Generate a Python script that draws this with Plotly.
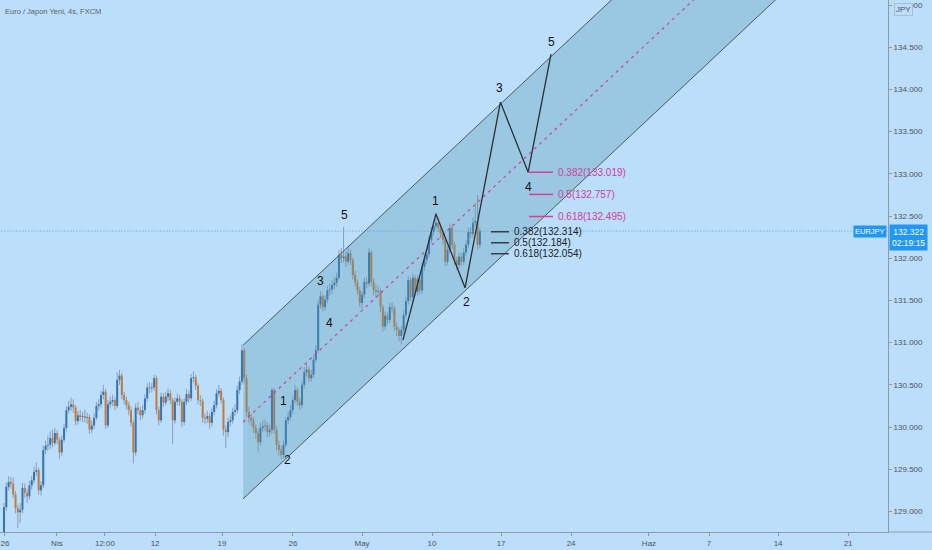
import plotly.graph_objects as go

# ---------------- candle data (EUR/JPY, 4h) ----------------
opens = [
 128.70,129.05,129.29,129.35,129.33,129.20,129.04,128.99,129.02,129.28,
 129.22,129.18,129.31,129.37,129.47,129.49,129.25,129.31,129.73,129.78,
 129.79,129.87,129.81,129.93,129.85,129.70,129.85,129.99,130.20,130.24,
 130.27,130.23,130.07,130.14,130.12,130.13,130.11,130.12,129.97,130.02,
 130.11,130.25,130.27,130.38,130.42,130.02,130.27,130.30,130.32,130.25,
 130.56,130.61,130.38,130.32,130.26,130.20,130.05,129.70,130.23,130.20,
 130.14,130.20,130.34,130.47,130.46,130.47,130.58,130.20,130.08,130.36,
 130.29,130.36,130.40,130.32,130.08,130.30,130.34,130.30,130.06,130.30,
 130.39,130.34,130.58,130.59,130.49,130.32,130.31,130.11,130.10,130.13,
 130.05,130.18,130.26,130.40,130.43,130.32,129.97,129.94,130.06,130.08,
 130.18,130.20,130.44,130.54,130.91,130.58,130.18,130.11,130.08,129.99,
 129.93,129.82,129.99,130.01,130.02,129.94,129.97,130.44,129.97,129.79,
 129.73,129.67,129.79,130.08,130.12,130.20,130.32,130.44,130.30,130.26,
 130.50,130.65,130.68,130.58,130.62,130.80,130.91,131.45,131.55,131.42,
 131.51,131.62,131.63,131.68,131.71,131.77,132.04,132.00,132.02,131.96,
 132.06,131.98,131.80,131.71,131.62,131.47,131.57,131.72,131.70,132.07,
 131.72,131.62,131.60,131.61,131.42,131.19,131.32,131.27,131.42,131.41,
 131.19,131.15,131.08,131.15,131.33,131.49,131.74,131.54,131.77,131.60,
 131.75,131.62,131.90,131.98,132.05,132.22,132.31,132.38,132.42,132.36,
 132.29,132.22,131.96,132.10,132.36,132.16,131.98,131.92,132.02,131.96,
 132.07,132.16,132.31,132.29,132.42,132.44,132.16]
highs = [
 129.10,129.34,129.42,129.41,129.40,129.24,129.08,129.10,129.34,129.33,
 129.27,129.36,129.42,129.53,129.58,129.52,129.36,129.78,129.84,129.90,
 129.95,129.97,129.99,129.96,129.88,129.90,130.04,130.25,130.31,130.35,
 130.33,130.26,130.19,130.20,130.18,130.21,130.17,130.15,130.08,130.16,
 130.30,130.33,130.43,130.50,130.45,130.32,130.36,130.38,130.35,130.65,
 130.68,130.64,130.42,130.36,130.30,130.24,130.08,130.28,130.30,130.24,
 130.26,130.39,130.52,130.53,130.52,130.62,130.61,130.24,130.41,130.40,
 130.42,130.46,130.44,130.35,130.35,130.40,130.38,130.33,130.34,130.45,
 130.43,130.63,130.66,130.62,130.52,130.38,130.34,130.16,130.19,130.16,
 130.23,130.31,130.45,130.50,130.46,130.35,130.02,130.11,130.14,130.23,
 130.27,130.49,130.60,130.98,130.94,130.62,130.24,130.16,130.12,130.03,
 129.97,130.05,130.08,130.09,130.06,130.03,130.47,130.46,130.01,129.84,
 129.78,129.84,130.12,130.18,130.26,130.37,130.50,130.47,130.35,130.55,
 130.71,130.75,130.71,130.68,130.85,130.97,131.50,131.61,131.58,131.56,
 131.67,131.70,131.74,131.78,131.83,132.10,132.12,132.37,132.08,132.14,
 132.10,132.01,131.85,131.75,131.66,131.61,131.77,131.78,132.12,132.10,
 131.76,131.68,131.67,131.64,131.45,131.37,131.36,131.47,131.48,131.44,
 131.24,131.18,131.20,131.38,131.54,131.79,131.77,131.82,131.80,131.80,
 131.78,131.95,132.04,132.11,132.27,132.37,132.45,132.54,132.47,132.40,
 132.33,132.25,132.15,132.41,132.39,132.20,132.02,132.07,132.06,132.12,
 132.21,132.36,132.37,132.48,132.66,132.75,132.36]
lows = [
 128.62,129.01,129.25,129.27,129.16,128.98,128.80,128.86,128.98,129.16,
 129.10,129.14,129.26,129.33,129.42,129.20,129.19,129.28,129.68,129.72,
 129.74,129.76,129.78,129.80,129.62,129.66,129.82,129.95,130.16,130.19,
 130.17,130.02,130.03,130.07,130.06,130.05,130.04,129.92,129.93,129.98,
 130.08,130.20,130.23,130.33,129.98,129.99,130.22,130.25,130.20,130.22,
 130.50,130.33,130.27,130.21,130.14,130.00,129.57,129.66,130.15,130.08,
 130.10,130.16,130.30,130.40,130.41,130.43,130.15,130.02,130.05,130.24,
 130.26,130.31,130.27,129.80,130.04,130.26,130.25,130.00,130.02,130.26,
 130.29,130.31,130.53,130.44,130.27,130.25,130.05,130.03,130.05,129.98,
 130.01,130.14,130.22,130.36,130.28,129.90,129.75,129.88,130.01,130.04,
 130.13,130.16,130.39,130.50,130.52,130.12,130.05,130.01,129.93,129.86,
 129.70,129.78,129.94,129.95,129.88,129.89,129.92,129.92,129.72,129.66,
 129.62,129.63,129.76,130.03,130.08,130.16,130.28,130.25,130.20,130.22,
 130.46,130.60,130.53,130.54,130.58,130.76,130.88,131.40,131.37,131.38,
 131.47,131.56,131.58,131.63,131.66,131.74,131.94,131.95,131.90,131.92,
 131.92,131.75,131.66,131.57,131.42,131.39,131.53,131.64,131.66,131.67,
 131.56,131.54,131.55,131.36,131.13,131.15,131.21,131.23,131.35,131.14,
 131.08,131.02,130.98,131.11,131.29,131.45,131.49,131.50,131.55,131.56,
 131.57,131.58,131.85,131.93,132.01,132.18,132.27,132.34,132.31,132.24,
 132.16,131.90,131.92,132.06,132.11,131.92,131.86,131.88,131.91,131.92,
 132.03,132.12,132.24,132.25,132.37,132.10,132.12]
closes = [
 129.05,129.29,129.35,129.33,129.20,129.04,128.99,129.02,129.28,129.22,
 129.18,129.31,129.37,129.47,129.49,129.25,129.31,129.73,129.78,129.79,
 129.87,129.81,129.93,129.85,129.70,129.85,129.99,130.20,130.24,130.27,
 130.23,130.07,130.14,130.12,130.13,130.11,130.12,129.97,130.02,130.11,
 130.25,130.27,130.38,130.42,130.02,130.27,130.30,130.32,130.25,130.56,
 130.61,130.38,130.32,130.26,130.20,130.05,129.70,130.23,130.20,130.14,
 130.20,130.34,130.47,130.46,130.47,130.58,130.20,130.08,130.36,130.29,
 130.36,130.40,130.32,130.08,130.30,130.34,130.30,130.06,130.30,130.39,
 130.34,130.58,130.59,130.49,130.32,130.31,130.11,130.10,130.13,130.05,
 130.18,130.26,130.40,130.43,130.32,129.97,129.94,130.06,130.08,130.18,
 130.20,130.44,130.54,130.91,130.58,130.18,130.11,130.08,129.99,129.93,
 129.82,129.99,130.01,130.02,129.94,129.97,130.44,129.97,129.79,129.73,
 129.67,129.79,130.08,130.12,130.20,130.32,130.44,130.30,130.26,130.50,
 130.65,130.68,130.58,130.62,130.80,130.91,131.45,131.55,131.42,131.51,
 131.62,131.63,131.68,131.71,131.77,132.04,132.00,132.02,131.96,132.06,
 131.98,131.80,131.71,131.62,131.47,131.57,131.72,131.70,132.07,131.72,
 131.62,131.60,131.61,131.42,131.19,131.32,131.27,131.42,131.41,131.19,
 131.15,131.08,131.15,131.33,131.49,131.74,131.54,131.77,131.60,131.75,
 131.62,131.90,131.98,132.05,132.22,132.31,132.38,132.42,132.36,132.29,
 132.22,131.96,132.10,132.36,132.16,131.98,131.92,132.02,131.96,132.07,
 132.16,132.31,132.29,132.42,132.44,132.16,132.322]
bar_index = list(range(len(closes)))
last_price = 132.322
last_price_text = "132.322"
countdown_text = "02:19:15"

# time axis labels (bar positions)
tick_bars = [0.4, 22.9, 43.7, 65.4, 94.4, 125.1, 155.0, 185.3, 215.2, 245.5, 279.2, 305.2, 335.1, 365.4]
tick_labels = ["26", "Nis", "12:00", "12", "19", "26", "May", "10", "17", "24", "Haz", "7", "14", "21"]
price_ticks = [129.0, 129.5, 130.0, 130.5, 131.0, 131.5, 132.0, 132.5, 133.0, 133.5, 134.0, 134.5, 135.0]
price_tick_labels = ["129.000", "129.500", "130.000", "130.500", "131.000", "131.500", "132.000",
                     "132.500", "133.000", "133.500", "134.000", "134.500", "135.000"]

# parallel channel drawing
channel_bars = [103.5, 400.0]
channel_upper = [130.97, 138.575]
channel_lower = [129.15, 136.755]
channel_mid = [130.06, 137.665]

# Elliott wave drawing
wave_bars = [172.7, 187.0, 199.6, 214.9, 226.9, 236.8]
wave_prices = [131.03, 132.525, 131.65, 133.85, 133.019, 134.42]
label_text = ["5", "3", "4", "1", "2", "1", "2", "3", "4", "5"]
label_bars = [147.2, 136.8, 140.7, 121.2, 122.9, 187.0, 200.0, 214.7, 226.9, 236.8]
label_prices = [132.513, 131.731, 131.233, 130.309, 129.610, 132.679, 131.482, 134.018, 132.845, 134.563]

# Fibonacci retracement levels
fib_black_levels = ["0.382", "0.5", "0.618"]
fib_black_prices = [132.314, 132.184, 132.054]
fib_black_span = [210.8, 218.6]
fib_pink_levels = ["0.382", "0.5", "0.618"]
fib_pink_prices = [133.019, 132.757, 132.495]
fib_pink_span = [227.3, 237.7]

# ---------------- colours ----------------
BG = "#bbdefb"
UP = "#3574b3"
DOWN = "#c47a3a"
WICK = "#8d9db0"
AXIS = "#8e9aa8"
TXT = "#50535e"
PINK = "#d2409c"
FONT = "Liberation Sans"

fig = go.Figure()

# wicks
wx, wy = [], []
for i, h, l in zip(bar_index, highs, lows):
    wx += [i, i, None]
    wy += [l, h, None]
fig.add_trace(go.Scatter(x=wx, y=wy, mode="lines", line=dict(color=WICK, width=1), hoverinfo="skip"))

# bodies
ux, uy, dx, dy = [], [], [], []
for i, o, c in zip(bar_index, opens, closes):
    if c >= o:
        ux += [i, i, None]
        uy += [o, c, None]
    else:
        dx += [i, i, None]
        dy += [o, c, None]
fig.add_trace(go.Scatter(x=ux, y=uy, mode="lines", line=dict(color=UP, width=2), hoverinfo="skip"))
fig.add_trace(go.Scatter(x=dx, y=dy, mode="lines", line=dict(color=DOWN, width=2), hoverinfo="skip"))

# channel fill
fig.add_trace(go.Scatter(
    x=[channel_bars[0], channel_bars[0], channel_bars[1], channel_bars[1], channel_bars[0]],
    y=[channel_lower[0], channel_upper[0], channel_upper[1], channel_lower[1], channel_lower[0]],
    mode="lines", line=dict(width=0), fill="toself", fillcolor="rgba(80,150,170,0.30)",
    hoverinfo="skip"))
fig.add_trace(go.Scatter(x=channel_bars, y=channel_upper, mode="lines",
                         line=dict(color="#4f5a63", width=1), hoverinfo="skip"))
fig.add_trace(go.Scatter(x=channel_bars, y=channel_lower, mode="lines",
                         line=dict(color="#4f5a63", width=1), hoverinfo="skip"))
fig.add_trace(go.Scatter(x=channel_bars, y=channel_mid, mode="lines",
                         line=dict(color=PINK, width=1.2, dash="3px,4px"), hoverinfo="skip"))

# current price line
fig.add_trace(go.Scatter(x=[-5, 400], y=[last_price, last_price], mode="lines",
                         line=dict(color="#5c9bd6", width=1, dash="1px,2px"), hoverinfo="skip"))

# wave path
fig.add_trace(go.Scatter(x=wave_bars, y=wave_prices, mode="lines",
                         line=dict(color="#2b2f33", width=1.3), hoverinfo="skip"))

# fib level segments
for p in fib_black_prices:
    fig.add_trace(go.Scatter(x=fib_black_span, y=[p, p], mode="lines",
                             line=dict(color="#3a3e44", width=1.5), hoverinfo="skip"))
for p in fib_pink_prices:
    fig.add_trace(go.Scatter(x=fib_pink_span, y=[p, p], mode="lines",
                             line=dict(color=PINK, width=1.5), hoverinfo="skip"))

annotations = []
for t, bx, py in zip(label_text, label_bars, label_prices):
    annotations.append(dict(x=bx, y=py, xref="x", yref="y", text=t, showarrow=False,
                            font=dict(family=FONT, size=12, color="#111111")))
for lv, p in zip(fib_black_levels, fib_black_prices):
    annotations.append(dict(x=fib_black_span[1] + 1.2, y=p, xref="x", yref="y",
                            text=f"{lv}({p:.3f})", showarrow=False, xanchor="left",
                            font=dict(family=FONT, size=10, color="#222222")))
for lv, p in zip(fib_pink_levels, fib_pink_prices):
    annotations.append(dict(x=fib_pink_span[1] + 1.2, y=p, xref="x", yref="y",
                            text=f"{lv}({p:.3f})", showarrow=False, xanchor="left",
                            font=dict(family=FONT, size=10, color=PINK)))

# title
annotations.append(dict(x=0, y=1, xref="paper", yref="paper", xanchor="left", yanchor="top",
                        xshift=3, yshift=-5, text="Euro / Japon Yeni, 4s, FXCM", showarrow=False,
                        font=dict(family=FONT, size=7.5, color="#5a5e66")))
# price label on axis
annotations.append(dict(x=1, y=last_price, xref="paper", yref="y", xanchor="left", yanchor="top",
                        yshift=7, xshift=1, text=f"{last_price_text}<br>{countdown_text}",
                        showarrow=False, bgcolor="#2196f3", borderpad=2, align="center",
                        font=dict(family=FONT, size=8.5, color="#ffffff")))
annotations.append(dict(x=1, y=last_price, xref="paper", yref="y", xanchor="right", yanchor="middle",
                        xshift=-1, text="EURJPY", showarrow=False, bgcolor="#2196f3", borderpad=1,
                        font=dict(family=FONT, size=7.5, color="#ffffff")))
annotations.append(dict(x=1, y=1, xref="paper", yref="paper", xanchor="left", yanchor="top",
                        xshift=6, yshift=-3, text="JPY", showarrow=False, bgcolor=BG,
                        bordercolor="#a9bfd3", borderwidth=1, borderpad=1,
                        font=dict(family=FONT, size=8, color=TXT)))

fig.update_layout(
    width=932, height=550,
    margin=dict(l=0, r=44, t=0, b=18),
    paper_bgcolor=BG, plot_bgcolor=BG,
    showlegend=False, hovermode=False,
    annotations=annotations,
    shapes=[dict(type="line", xref="paper", yref="paper", x0=1, x1=1.06, y0=0, y1=0,
                 line=dict(color=AXIS, width=1))],
    xaxis=dict(range=[-1.732, 382.68], showgrid=False, zeroline=False, showline=True,
               linecolor=AXIS, linewidth=1, ticks="outside", ticklen=3, tickcolor=AXIS,
               tickvals=tick_bars, ticktext=tick_labels, ticklabeloverflow="allow",
               tickfont=dict(family=FONT, size=8, color=TXT), fixedrange=True),
    yaxis=dict(range=[128.757, 135.06], side="right", showgrid=False, zeroline=False,
               showline=True, linecolor=AXIS, linewidth=1, ticks="outside", ticklen=3,
               tickcolor=AXIS, tickvals=price_ticks, ticktext=price_tick_labels,
               ticklabeloverflow="allow",
               tickfont=dict(family=FONT, size=8, color=TXT), fixedrange=True),
)

fig.write_html(
    "out.html",
    config={"displayModeBar": False},
    post_script="document.body.style.margin='0px';document.body.style.background='#bbdefb';",
)
